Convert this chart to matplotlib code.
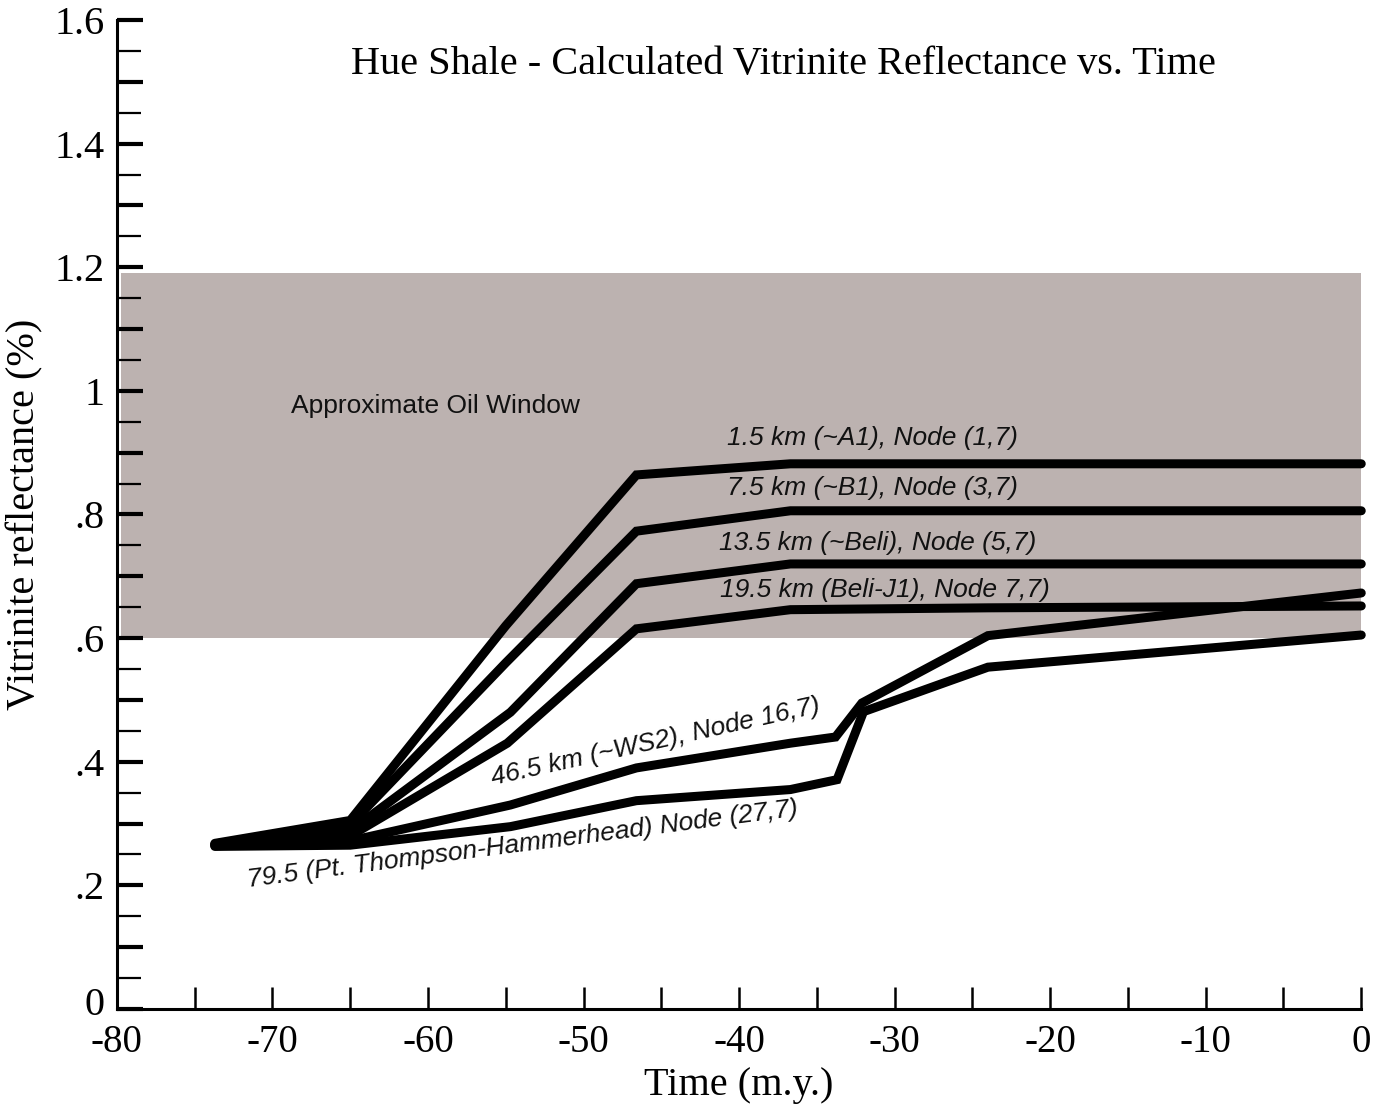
import matplotlib
matplotlib.use("Agg")
import matplotlib.pyplot as plt
import matplotlib.transforms as mtransforms
from matplotlib.ticker import MultipleLocator, FuncFormatter

# burial history nodes: time (m.y.) and calculated Ro (%)
t_a1 = [-73.7, -65, -55, -46.6, -36.7, 0]
ro_a1 = [0.268, 0.305, 0.62, 0.864, 0.882, 0.882]

t_b1 = [-73.7, -65, -55, -46.6, -36.7, 0]
ro_b1 = [0.267, 0.298, 0.56, 0.773, 0.806, 0.806]

t_beli = [-73.7, -65, -54.7, -46.6, -36.7, 0]
ro_beli = [0.266, 0.288, 0.48, 0.688, 0.72, 0.72]

t_j1 = [-73.7, -65, -54.9, -46.6, -36.7, -24, 0]
ro_j1 = [0.265, 0.28, 0.43, 0.615, 0.646, 0.649, 0.652]

t_ws2 = [-73.7, -65, -54.7, -46.6, -36.7, -33.8, -32.1, -24, 0]
ro_ws2 = [0.264, 0.272, 0.33, 0.39, 0.43, 0.44, 0.495, 0.604, 0.673]

t_ph = [-73.7, -65, -54.7, -46.6, -36.7, -33.7, -32.0, -24, 0]
ro_ph = [0.263, 0.265, 0.295, 0.337, 0.355, 0.371, 0.481, 0.553, 0.605]

oil_window = (0.6, 1.19)

plt.rcParams["font.family"] = ["Liberation Serif", "DejaVu Serif"]

fig = plt.figure(figsize=(13.75, 11.1), dpi=100)
ax = fig.add_axes([0.085, 0.091, 0.905, 0.891])

ax.axhspan(oil_window[0], oil_window[1], xmin=0.003, xmax=1.0,
           color="#bcb2b0", lw=0, zorder=0)

for t, ro in [(t_a1, ro_a1), (t_b1, ro_b1), (t_beli, ro_beli), (t_j1, ro_j1),
              (t_ws2, ro_ws2), (t_ph, ro_ph)]:
    ax.plot(t, ro, color="black", lw=6.5, solid_joinstyle="miter",
            solid_capstyle="round", zorder=3, clip_on=False)

lab = dict(family=["Liberation Sans", "DejaVu Sans"], style="italic",
           fontsize=19, ha="center", va="center", color="#111111")
ax.text(-31.4, 0.924, "1.5 km (~A1), Node (1,7)", **lab)
ax.text(-31.4, 0.843, "7.5 km (~B1), Node (3,7)", **lab)
ax.text(-31.1, 0.754, "13.5 km (~Beli), Node (5,7)", **lab)
ax.text(-30.6, 0.678, "19.5 km (Beli-J1), Node 7,7)", **lab)
ax.text(-45.4, 0.432, "46.5 km (~WS2), Node 16,7)", rotation=12.5, **lab)
ax.text(-53.9, 0.266, "79.5 (Pt. Thompson-Hammerhead) Node (27,7)",
        rotation=7.4, **lab)
ax.text(-59.5, 0.976, "Approximate Oil Window", family=["Liberation Sans"],
        fontsize=19, ha="center", va="center", color="#111111")

ax.text(0.536, 0.955, "Hue Shale - Calculated Vitrinite Reflectance vs. Time",
        transform=ax.transAxes, ha="center", va="center", fontsize=29)

ax.set_xlim(-80, 0)
ax.set_ylim(0, 1.6)

for s in ["top", "right"]:
    ax.spines[s].set_visible(False)
for s in ["left", "bottom"]:
    ax.spines[s].set_linewidth(2.2)

ax.xaxis.set_major_locator(MultipleLocator(5))
ax.xaxis.set_major_formatter(FuncFormatter(
    lambda v, p: "%d" % round(v) if round(v) % 10 == 0 else ""))
ax.yaxis.set_major_locator(MultipleLocator(0.1))
ax.yaxis.set_minor_locator(MultipleLocator(0.05))


def ro_fmt(v, p):
    k = int(round(v * 10))
    if k % 2:
        return ""
    if k == 0:
        return "0"
    s = "%.1f" % (k / 10)
    if s.endswith(".0"):
        return s[:-2]
    return s.lstrip("0")


ax.yaxis.set_major_formatter(FuncFormatter(ro_fmt))
ax.tick_params(axis="x", direction="in", length=16, width=1.8,
               labelsize=28, pad=11)
ax.tick_params(axis="y", which="major", direction="in", length=19, width=3,
               labelsize=29, pad=9)
ax.tick_params(axis="y", which="minor", direction="in", length=17, width=1.6)

ax.set_xlabel("Time (m.y.)", fontsize=29, labelpad=4)
ax.set_ylabel("Vitrinite reflectance (%)", fontsize=29, labelpad=8)

# nudge the "0" label up so it clears "-80"
fig.canvas.draw()
for tl in ax.get_yticklabels():
    if tl.get_text() == "0":
        tl.set_transform(tl.get_transform() + mtransforms.ScaledTranslation(
            0, 6 / 72, fig.dpi_scale_trans))

fig.savefig("out.png", dpi=100)
